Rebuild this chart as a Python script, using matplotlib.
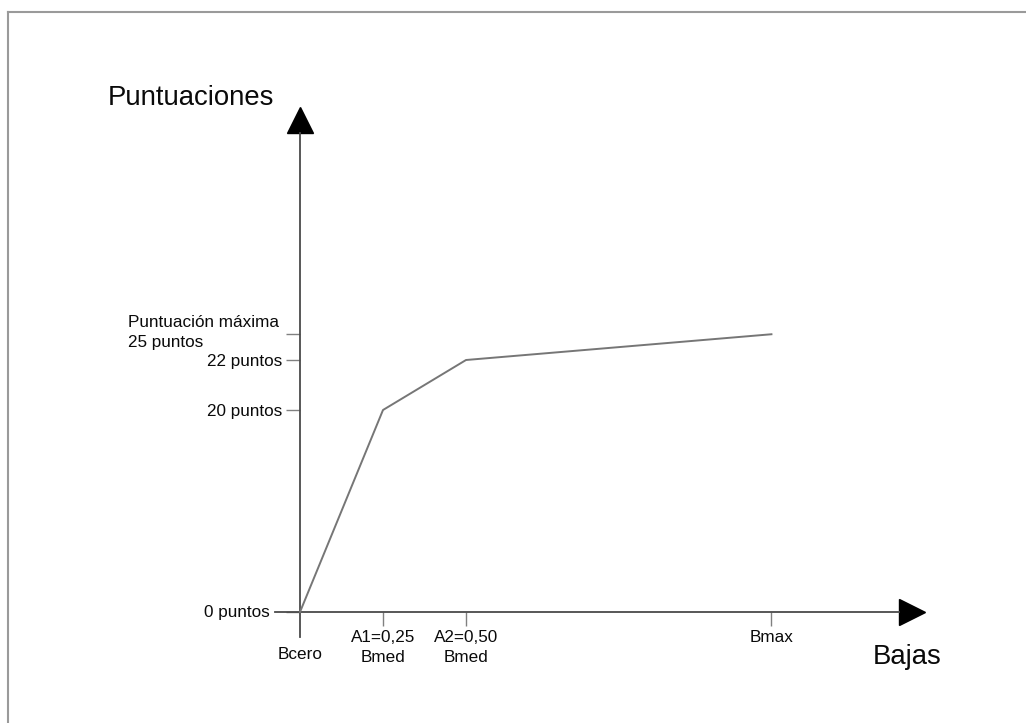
import numpy as np
import matplotlib
matplotlib.use("Agg")
import matplotlib.pyplot as plt
from matplotlib import transforms as mtransforms
from matplotlib.lines import Line2D

plt.rcParams['font.family'] = ['Liberation Sans', 'DejaVu Sans']

# ---------------- data ----------------
x_labels = ["Bcero", "A1=0,25\nBmed", "A2=0,50\nBmed", "Bmax"]
x_values = [0.0, 0.25, 0.50, 1.42]          # bajas, in units of Bmed (Bmax)
y_points = [0, 20, 22, 25]                    # puntuaciones at each point
y_tick_values = [0, 20, 22, 25]
y_tick_labels = ["0 puntos", "20 puntos", "22 puntos", "Puntuación máxima\n25 puntos"]
x_axis_title = "Bajas"
y_axis_title = "Puntuaciones"

# schematic (non proportional) vertical scale used by the drawing
scale_in = [0, 20, 22, 25]
scale_out = [0, 20, 24.95, 27.5]


def fwd(y):
    y = np.asarray(y, float)
    return np.where(y <= 0, y,
                    np.where(y >= scale_in[-1], scale_out[-1] + (y - scale_in[-1]),
                             np.interp(y, scale_in, scale_out)))


def inv(v):
    v = np.asarray(v, float)
    return np.where(v <= 0, v,
                    np.where(v >= scale_out[-1], scale_in[-1] + (v - scale_out[-1]),
                             np.interp(v, scale_out, scale_in)))


W, H = 1026, 723
fig = plt.figure(figsize=(W / 100, H / 100), dpi=100)
fig.patch.set_facecolor('white')

# axes box in pixels: left 275, right 899, bottom 637, top 133
L, R, B, T = 275, 899, 637, 133
ax = fig.add_axes([L / W, (H - B) / H, (R - L) / W, (B - T) / H])
ax.set_facecolor('none')

ax.set_yscale('function', functions=(fwd, inv))
ax.set_xlim((L - 300) / 332, (R - 300) / 332)
ax.set_ylim(float(inv((612 - B) / 10.1)), float(inv((612 - T) / 10.1)))

axis_color = '#4a4a4a'
for s in ['top', 'right']:
    ax.spines[s].set_visible(False)
for s in ['left', 'bottom']:
    ax.spines[s].set_position(('data', 0))
    ax.spines[s].set_color(axis_color)
    ax.spines[s].set_linewidth(1.3)

# the curve
ax.plot(x_values, y_points, color='#767676', lw=1.4, clip_on=False, zorder=3)

txt_color = '#0a0a0a'
fs = 12.3
# ticks
ax.set_xticks(x_values[1:])
ax.set_xticklabels(x_labels[1:])
ax.set_yticks(y_tick_values)
ax.set_yticklabels([""] + y_tick_labels[1:-1] + [""])
ax.tick_params(axis='both', direction='out', length=10, width=1.0,
               color='#808080', labelsize=fs, labelcolor=txt_color, pad=3)
for lab in ax.get_xticklabels():
    lab.set_linespacing(1.45)

# labels placed individually
ax.annotate(x_labels[0], xy=(x_values[0], 0), xytext=(0, -30.5),
            textcoords='offset points', ha='center', va='center',
            fontsize=fs, color=txt_color, annotation_clip=False)
ax.annotate(y_tick_labels[0], xy=(0, y_tick_values[0]), xytext=(-21.6, 0),
            textcoords='offset points', ha='right', va='center',
            fontsize=fs, color=txt_color, annotation_clip=False)
ax.annotate(y_tick_labels[-1], xy=(0, y_tick_values[-1]), xytext=(-15.1, -9.2),
            textcoords='offset points', ha='right', va='baseline', multialignment='left',
            linespacing=1.4, fontsize=fs, color=txt_color, annotation_clip=False)

# arrow heads
ytr = mtransforms.offset_copy(ax.get_xaxis_transform(), fig=fig, x=0, y=13.5, units='dots')
ax.plot([0], [1], marker='^', markersize=19.4, color='black', transform=ytr, clip_on=False)
xtr = mtransforms.offset_copy(ax.get_yaxis_transform(), fig=fig, x=13.0, y=0, units='dots')
ax.plot([1], [0], marker='>', markersize=18.7, color='black', transform=xtr, clip_on=False)

# axis titles
fig.text(191 / W, 1 - 98 / H, y_axis_title, ha='center', va='center', fontsize=19.8, color=txt_color)
fig.text(907 / W, 1 - 657 / H, x_axis_title, ha='center', va='center', fontsize=19.8, color=txt_color)

# frame lines (left and top)
fig.add_artist(Line2D([8 / W, 8 / W], [0, 1 - 12 / H], transform=fig.transFigure,
                      color='#9a9a9a', lw=1.5))
fig.add_artist(Line2D([8 / W, 1], [1 - 12 / H, 1 - 12 / H], transform=fig.transFigure,
                      color='#9a9a9a', lw=1.5))

fig.savefig('out.png', dpi=100, facecolor='white')
